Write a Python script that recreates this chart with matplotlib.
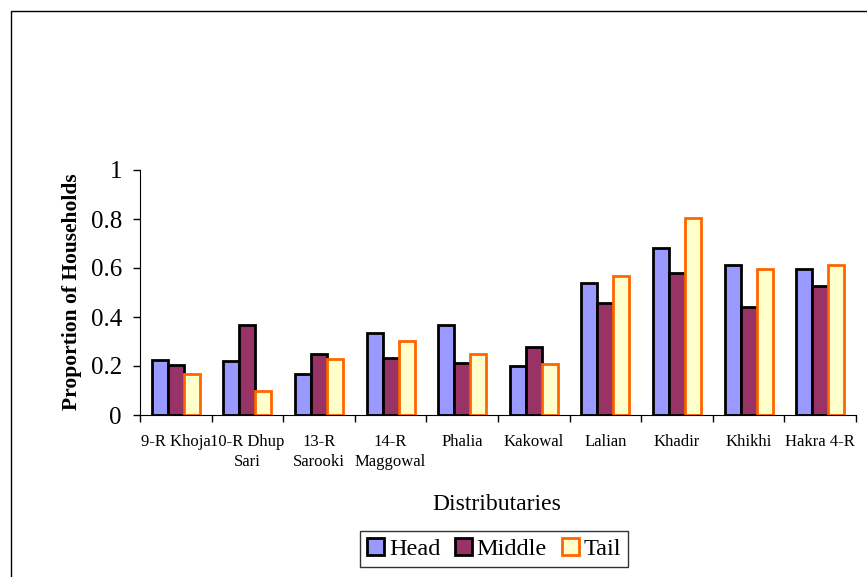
import matplotlib
matplotlib.use("Agg")
import matplotlib.pyplot as plt
import numpy as np
from matplotlib.patches import Rectangle

plt.rcParams['font.family'] = ['Liberation Serif', 'DejaVu Serif']

# data
distributaries = ['9-R Khoja', '10-R Dhup\nSari', '13-R\nSarooki', '14-R\nMaggowal',
                  'Phalia', 'Kakowal', 'Lalian', 'Khadir', 'Khikhi', 'Hakra 4-R']
head = [0.224, 0.222, 0.166, 0.333, 0.366, 0.200, 0.537, 0.680, 0.614, 0.596]
middle = [0.204, 0.367, 0.250, 0.231, 0.213, 0.276, 0.457, 0.581, 0.440, 0.525]
tail = [0.166, 0.100, 0.227, 0.302, 0.249, 0.207, 0.566, 0.803, 0.596, 0.614]

fig = plt.figure(figsize=(8.67, 5.77), dpi=100)
ax = fig.add_axes([140/867, 1 - 415/577, 716/867, 245/577])

x = np.arange(len(distributaries))
w = 0.2235
ax.bar(x - w, head, w, color='#9999FF', edgecolor='black', linewidth=2, label='Head')
ax.bar(x, middle, w, color='#993366', edgecolor='black', linewidth=2, label='Middle')
ax.bar(x + w, tail, w, color='#FFFFCC', edgecolor='#FF6600', linewidth=2, label='Tail')

ax.set_xlim(-0.5, len(distributaries) - 0.5)
ax.set_ylim(0, 1)
ax.set_yticks([0, 0.2, 0.4, 0.6, 0.8, 1])
ax.set_yticklabels(['0', '0.2', '0.4', '0.6', '0.8', '1'], fontsize=18)
ax.tick_params(axis='y', direction='out', length=5, width=1, pad=8)

ax.set_xticks(x)
ax.set_xticklabels(distributaries, fontsize=12, linespacing=1.3)
ax.tick_params(axis='x', which='major', length=0, pad=14)
ax.set_xticks(np.arange(-0.5, len(distributaries)), minor=True)
ax.tick_params(axis='x', which='minor', direction='out', length=5, width=1)

ax.spines['top'].set_visible(False)
ax.spines['right'].set_visible(False)

fig.text(72/867, 1 - 292/577, 'Proportion of Households', rotation=90,
         fontsize=15.5, fontweight='bold', ha='center', va='center')
fig.text(497/867, 1 - 505/577, 'Distributaries', fontsize=17, ha='center', va='center')

leg = fig.legend(loc='center', bbox_to_anchor=(494/867, 1 - 549/577), ncol=3,
                 fontsize=17.5, frameon=True, fancybox=False, edgecolor='black',
                 handlelength=0.7, handleheight=0.7, handletextpad=0.2,
                 columnspacing=0.6, borderpad=0.3)
leg.get_frame().set_linewidth(1)

# outer chart-area border
fig.patches.append(Rectangle((11/867, -0.1), 1.2, 1.1 - 11/577, transform=fig.transFigure,
                             fill=False, edgecolor='black', linewidth=1))

fig.savefig('out.png', dpi=100)
